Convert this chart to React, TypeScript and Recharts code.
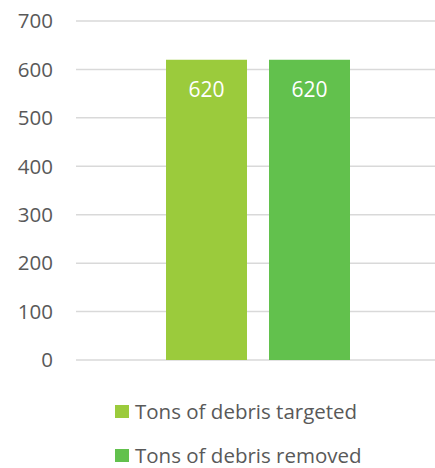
import { BarChart, Bar, XAxis, YAxis, CartesianGrid, Legend, LabelList } from "recharts";

const categories = ["Debris"];
const targeted = [620];
const removed = [620];
const yTicks = [0, 100, 200, 300, 400, 500, 600, 700];

const SERIES = [
  { key: "targeted", name: "Tons of debris targeted", color: "#9BCB3C" },
  { key: "removed", name: "Tons of debris removed", color: "#62C14D" },
];

const data = categories.map((c, i) => ({ name: c, targeted: targeted[i], removed: removed[i] }));

const FONT = "'Open Sans', 'Noto Sans', sans-serif";

function LegendBox() {
  return (
    <div style={{ position: "relative", height: 108, fontFamily: FONT, fontSize: 20.5, color: "#595959" }}>
      {SERIES.map((s, i) => (
        <div
          key={s.key}
          style={{ position: "absolute", left: 115, top: 37 + i * 44, display: "flex", alignItems: "center", lineHeight: "28px" }}
        >
          <span style={{ width: 14, height: 13, background: s.color, display: "inline-block", marginRight: 6 }} />
          <span>{s.name}</span>
        </div>
      ))}
    </div>
  );
}

export default function App() {
  return (
    <div style={{ position: "absolute", left: 0, top: 0, width: 435, height: 468, overflow: "hidden", background: "#fff" }}>
      <BarChart
        width={440}
        height={468}
        data={data}
        margin={{ top: 21, right: 1, bottom: 0, left: 0 }}
        barGap={22}
        barSize={81}
      >
        <CartesianGrid vertical={false} stroke="#d9d9d9" strokeWidth={1.5} />
        <XAxis dataKey="name" hide />
        <YAxis
          domain={[0, 700]}
          ticks={yTicks}
          width={76}
          axisLine={false}
          tickLine={false}
          tickSize={0}
          tickMargin={23}
          tick={{ fill: "#595959", fontSize: 20.5, fontFamily: FONT }}
        />
        <Legend verticalAlign="bottom" content={() => <LegendBox />} />
        {SERIES.map((s) => (
          <Bar key={s.key} dataKey={s.key} name={s.name} fill={s.color} isAnimationActive={false}>
            <LabelList
              dataKey={s.key}
              position="insideTop"
              offset={22}
              fill="#ffffff"
              style={{ fontSize: 21, fontFamily: FONT }}
            />
          </Bar>
        ))}
      </BarChart>
    </div>
  );
}
